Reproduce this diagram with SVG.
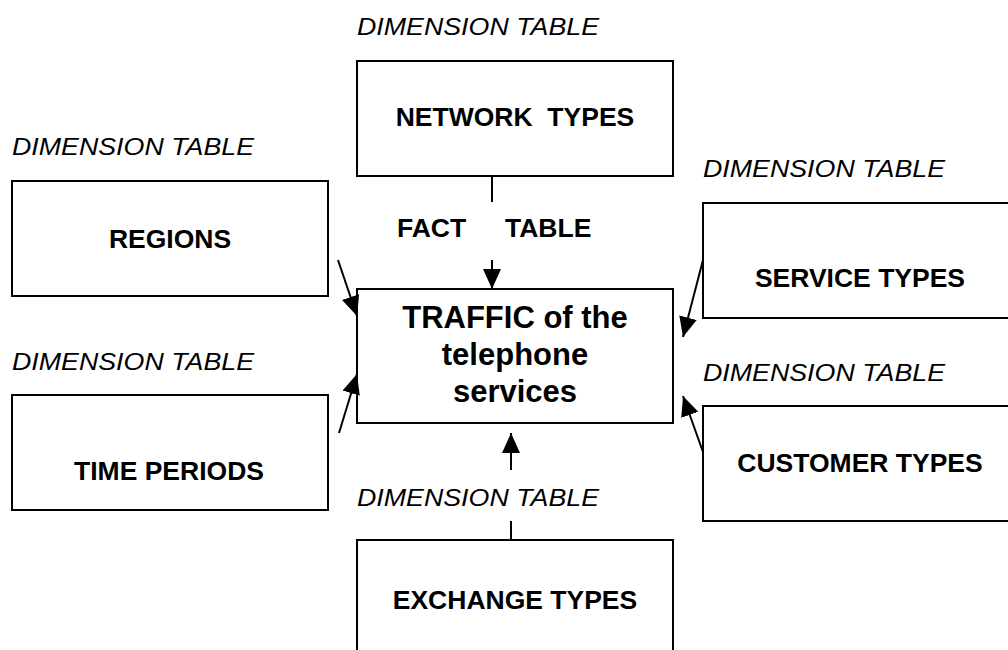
<svg xmlns="http://www.w3.org/2000/svg" width="1008" height="650" viewBox="0 0 1008 650">
<defs>
<style>
.box{fill:#fff;stroke:#000;stroke-width:2}
.dim{font-family:"Liberation Sans",Arial,sans-serif;font-style:italic;font-size:24px;fill:#000}
.lbl{font-family:"Liberation Sans",Arial,sans-serif;font-weight:bold;font-size:26.5px;fill:#000;text-anchor:middle}
.big{font-family:"Liberation Sans",Arial,sans-serif;font-weight:bold;font-size:31px;fill:#000;text-anchor:middle}
.conn line{stroke:#000;stroke-width:2}
</style>
<marker id="ah" markerUnits="userSpaceOnUse" markerWidth="20" markerHeight="18" refX="20" refY="9" orient="auto">
<path d="M0,0 L20,9 L0,18 z" fill="#000"/>
</marker>
</defs>
<rect width="1008" height="650" fill="#fff"/>

<g id="network">
<text class="dim" x="357" y="35" textLength="242" lengthAdjust="spacingAndGlyphs">DIMENSION TABLE</text>
<rect class="box" x="357" y="61" width="316" height="115"/>
<text class="lbl" x="515" y="126" xml:space="preserve">NETWORK  TYPES</text>
</g>

<g id="regions">
<text class="dim" x="12" y="155" textLength="242" lengthAdjust="spacingAndGlyphs">DIMENSION TABLE</text>
<rect class="box" x="12" y="181" width="316" height="115"/>
<text class="lbl" x="170" y="248">REGIONS</text>
</g>

<g id="service">
<text class="dim" x="703" y="177" textLength="242" lengthAdjust="spacingAndGlyphs">DIMENSION TABLE</text>
<rect class="box" x="703" y="203" width="320" height="115"/>
<text class="lbl" x="860" y="287">SERVICE TYPES</text>
</g>

<g id="fact">
<text class="lbl" style="text-anchor:start" y="237"><tspan x="397">FACT</tspan><tspan x="505">TABLE</tspan></text>
<rect class="box" x="357" y="289" width="316" height="134"/>
<text class="big" x="515" y="328">TRAFFIC of the</text>
<text class="big" x="515" y="365">telephone</text>
<text class="big" x="515" y="402">services</text>
</g>

<g id="time">
<text class="dim" x="12" y="370" textLength="242" lengthAdjust="spacingAndGlyphs">DIMENSION TABLE</text>
<rect class="box" x="12" y="395" width="316" height="115"/>
<text class="lbl" x="169" y="480">TIME PERIODS</text>
</g>

<g id="customer">
<text class="dim" x="703" y="381" textLength="242" lengthAdjust="spacingAndGlyphs">DIMENSION TABLE</text>
<rect class="box" x="703" y="406" width="320" height="115"/>
<text class="lbl" x="860" y="472">CUSTOMER TYPES</text>
</g>

<g id="exchange">
<text class="dim" x="357" y="506" textLength="242" lengthAdjust="spacingAndGlyphs">DIMENSION TABLE</text>
<rect class="box" x="357" y="540" width="316" height="130"/>
<text class="lbl" x="515" y="609">EXCHANGE TYPES</text>
</g>

<g id="connectors" class="conn">
<line x1="492" y1="176" x2="492" y2="202"/>
<line x1="492" y1="260" x2="492" y2="289" marker-end="url(#ah)"/>
<line x1="338" y1="260" x2="357" y2="316" marker-end="url(#ah)"/>
<line x1="339" y1="433" x2="357" y2="374" marker-end="url(#ah)"/>
<line x1="703" y1="260" x2="683" y2="337" marker-end="url(#ah)"/>
<line x1="703" y1="452" x2="683" y2="396" marker-end="url(#ah)"/>
<line x1="511" y1="470" x2="511" y2="433" marker-end="url(#ah)"/>
<line x1="511" y1="521" x2="511" y2="540"/>
</g>
</svg>
